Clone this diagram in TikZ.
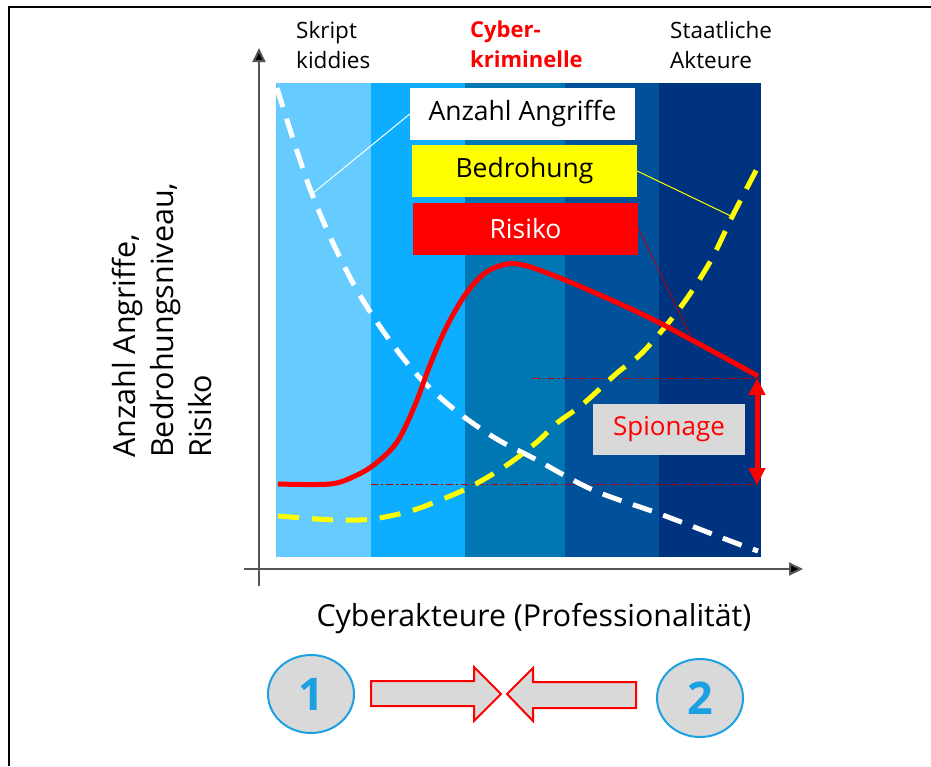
\documentclass[tikz,border=0pt]{standalone}
\usepackage{fontspec}
\setmainfont{Open Sans}
\usetikzlibrary{arrows.meta,shapes.geometric}
\definecolor{bandA}{HTML}{66CCFF}
\definecolor{bandB}{HTML}{0DAEFF}
\definecolor{bandC}{HTML}{0077B2}
\definecolor{bandD}{HTML}{00509A}
\definecolor{bandE}{HTML}{00337F}
\definecolor{axisgray}{HTML}{555555}
\definecolor{boxgray}{HTML}{D9D9D9}
\definecolor{circblue}{HTML}{1BA1E2}
\definecolor{darkred}{HTML}{C00000}
\definecolor{yel}{HTML}{FFFF00}
\begin{document}
\begin{tikzpicture}[x=1pt,y=-1pt,
  legbox/.style={minimum width=225pt, minimum height=52pt, inner sep=0pt, font=\fontsize{26.5}{30}\selectfont},
  toplabel/.style={anchor=north west, align=left, inner sep=0pt, font=\fontsize{22.5}{30}\selectfont},
  axisline/.style={axisgray, line width=2pt, -{Triangle[length=14pt,width=13pt,fill=black]}},
  fatarrow/.style={draw=red, line width=2pt, fill=boxgray},
  numcirc/.style={ellipse, draw=circblue, line width=2pt, fill=boxgray, minimum width=86pt, minimum height=78pt, inner sep=0pt, text=circblue, font=\bfseries\fontsize{45}{45}\selectfont}
]
\useasboundingbox (0,0) rectangle (931,766);
\fill[white] (0,0) rectangle (931,766);
\draw[line width=2.5pt, black] (9,766) -- (9,7) -- (931,7);

% bands
\fill[bandA] (276,83) rectangle (371,557);
\fill[bandB] (371,83) rectangle (465,557);
\fill[bandC] (465,83) rectangle (565,557);
\fill[bandD] (565,83) rectangle (659,557);
\fill[bandE] (659,83) rectangle (761,557);

% axes
\coordinate (yo) at (259,586);
\coordinate (yt) at (259,48);
\coordinate (xo) at (244,569);
\coordinate (xt) at (803,569);
\draw[axisline] (yo) -- (yt);
\draw[axisline] (xo) -- (xt);

% top labels
\node[toplabel] (sk) at (296,21) {Skript\\kiddies};
\node[toplabel, text=red, font=\bfseries\fontsize{22}{30}\selectfont] (cy) at (470,21) {Cyber-\\kriminelle};
\node[toplabel] (st) at (670,21) {Staatliche\\Akteure};

% axis labels
\node[font=\fontsize{30.3}{34}\selectfont, inner sep=0pt] (xl) at (534,619) {Cyberakteure (Professionalität)};
\node[rotate=90, anchor=north west, align=left, inner sep=0pt, font=\fontsize{30.5}{38}\selectfont] (yl) at (112,458) {Anzahl Angriffe,\\Bedrohungsniveau,\\Risiko};

% dash-dot reference lines
\coordinate (hu1) at (533,378);
\coordinate (hu2) at (760,378);
\coordinate (hl1) at (371,484);
\coordinate (hl2) at (760,484);
\draw[darkred, line width=1pt, dash pattern=on 7pt off 3pt on 2pt off 3pt] (hu1) -- (hu2);
\draw[darkred, line width=1pt, dash pattern=on 7pt off 3pt on 2pt off 3pt] (hl1) -- (hl2);

% curves
\draw[white, line width=5pt, dash pattern=on 20pt off 12pt]
  plot[smooth, tension=0.55] coordinates {(277,88) (295,145) (312,194) (333,243) (358,292) (388,338) (420,378) (455,410) (495,438) (535,459) (593,490) (660,514) (733,542) (758,551)};
\draw[yel, line width=5pt, dash pattern=on 21pt off 13pt]
  plot[smooth, tension=0.55] coordinates {(278,516) (335,520) (372,519) (407,512) (433,503) (470,487) (507,465) (537,442) (557,423) (583,404) (617,373) (643,352) (680,308) (710,262) (733,215) (761,161)};
\draw[red, line width=5pt]
  plot[smooth, tension=0.55] coordinates {(278,484) (330,484) (355,476) (375,464) (397,442) (415,405) (430,365) (446,328) (465,295) (485,273) (507,264) (527,266) (560,278) (600,295) (650,318) (703,346) (758,376)};

% legend boxes
\node[legbox, fill=white] (anz) at (522.5,114) {Anzahl Angriffe};
\node[legbox, fill=yel] (bed) at (524.5,171) {Bedrohung};
\node[legbox, fill=red, text=white] (ris) at (525.5,229) {Risiko};
\coordinate (anzp) at (312,194);
\coordinate (bedp) at (733,217);
\coordinate (risp) at (692,339);
\draw[white, line width=1pt] (anz.west) -- (anzp);
\draw[yel, line width=1pt] (bed.east) -- (bedp);
\draw[darkred, line width=0.8pt] (ris.east) ++(0,-1) -- (risp);

% Spionage
\coordinate (sa) at (757,378);
\coordinate (sb) at (757,485);
\draw[red, line width=5pt, {Triangle[length=17pt,width=16pt]}-{Triangle[length=17pt,width=16pt]}] (sa) -- (sb);
\node[fill=boxgray, text=red, minimum width=152pt, minimum height=51pt, inner sep=0pt, font=\fontsize{26}{30}\selectfont] (spi) at (669,429.5) {Spionage};

% bottom
\node[numcirc] (c1) at (311,694) {1};
\node[numcirc] (c2) at (700,698) {2};
\draw[fatarrow] (371,681) -- (474,681) -- (474,667) -- (501,694) -- (474,721) -- (474,706) -- (371,706) -- cycle;
\draw[fatarrow] (507,694) -- (533,668) -- (533,682) -- (636,682) -- (636,708) -- (533,708) -- (533,721) -- cycle;
\end{tikzpicture}
\end{document}
